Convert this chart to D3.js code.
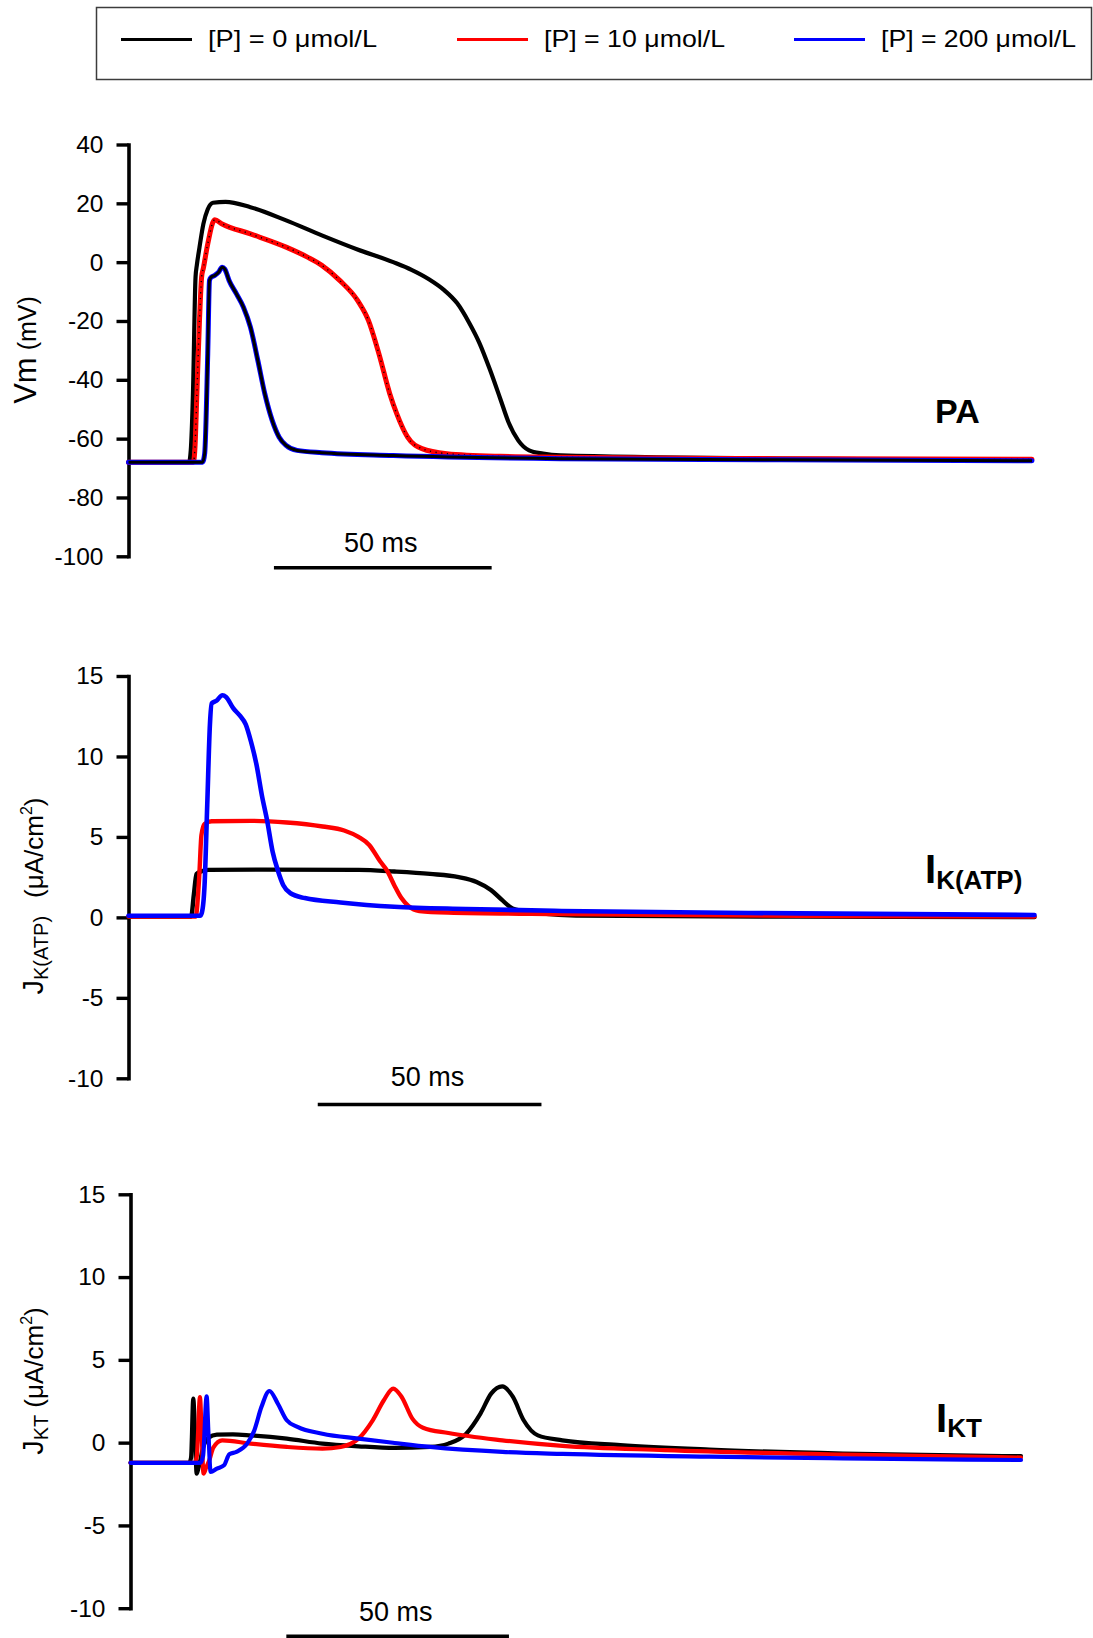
<!DOCTYPE html>
<html>
<head>
<meta charset="utf-8">
<script src="https://cdn.jsdelivr.net/npm/d3@7"></script>
<style>
  html, body { margin: 0; padding: 0; background: #fff; }
  svg { display: block; font-family: "Liberation Sans", Arial, Helvetica, sans-serif; }
</style>
</head>
<body>
<svg id="chart" width="1093" height="1638"></svg>
<script>
// ---- Series ----
const seriesNames  = ["[P] = 0 μmol/L", "[P] = 10 μmol/L", "[P] = 200 μmol/L"];
const seriesColors = ["#000000", "#ff0000", "#0000ff"];

// ---- Action potential, Vm (time ms, mV) ----
const vmP0 = [[0,-68],[13.9,-68],[14.3,-64],[14.8,-45],[15.4,-5],[15.7,-1],[16.3,5],[17.2,13],[18.2,18],[19.4,20.2],
  [22.3,20.5],[28,18.7],[36.2,14.2],[44.4,9.1],[52.6,4.3],[60.8,0.0],[65,-2.6],[69,-5.8],[72.5,-9.5],[75.5,-14],
  [78.2,-20.5],[80.6,-27.5],[83,-36.5],[85.4,-46.5],[87.3,-54.5],[89.5,-60.6],[92,-64],[95.2,-65.1],[99.2,-65.7],[150,-66.8],[207.5,-67.3]];
const vmP10 = [[0,-68],[14.9,-68],[15.3,-62],[15.7,-45],[16.3,-20],[16.8,-5],[17.2,-2],[18.2,6.2],[19.8,14.4],[21.5,13],
  [28,9.6],[36.2,5.1],[41.1,1.7],[44.4,-1.1],[48.5,-6.2],[52.6,-13],[55.1,-19.8],[57.5,-31.1],[60,-44.7],[61.6,-51.5],
  [64.1,-59.5],[67.4,-63.4],[73.1,-65.1],[85.4,-66],[99.2,-66.3],[150,-66.8],[207.5,-67.0]];
const vmP200 = [[0,-68],[17.0,-68],[17.5,-65],[18.2,-31],[18.6,-6.2],[19.0,-5.1],[19.8,-4.5],[20.7,-3.4],[21.5,-1.7],[22.1,-2.3],
  [23.1,-6.2],[24.8,-10.8],[26.4,-15.3],[28,-22.1],[29.7,-33.4],[31.3,-44.7],[33,-53.8],[34.6,-59.5],[36.2,-62.3],[38.7,-64],
  [44.4,-64.8],[60.8,-65.7],[99.2,-66.8],[150,-67.2],[207.5,-67.5]];
const vmTicks = [40, 20, 0, -20, -40, -60, -80, -100];

// ---- K(ATP) current density (time ms, μA/cm²) ----
const katpP0 = [[0,0.05],[14.0,0.05],[14.6,1.4],[15.2,2.7],[16.2,2.85],[17.8,2.95],[30,2.97],[51.4,2.95],[59.4,2.85],[67.4,2.7],
  [73.8,2.5],[77.8,2.2],[81,1.7],[83.4,1.1],[85.8,0.55],[88.2,0.38],[92,0.25],[100,0.12],[150,0.05],[202.5,0.02]];
const katpP10 = [[0,0.05],[15.0,0.05],[15.8,2.5],[16.3,5.1],[17.0,5.8],[18.6,5.97],[27.4,6.0],[35.4,5.9],[43.4,5.65],[48.2,5.4],
  [51.4,5.0],[53.8,4.5],[56.2,3.5],[57.8,2.9],[59.4,2.0],[61.0,1.2],[62.6,0.7],[65,0.4],[71.4,0.3],[96.8,0.2],[150,0.1],[202.5,0.05]];
const katpP200 = [[0,0.1],[16.0,0.1],[16.4,0.3],[17.0,2.0],[17.6,7.0],[18.2,12.0],[18.6,13.3],[19.6,13.45],[21.0,13.8],[21.8,13.7],
  [23.4,13.0],[25,12.5],[26.2,12.0],[27.4,10.9],[28.6,9.5],[29.8,7.6],[31,6.0],[32.2,4.1],[33.4,2.9],[34.6,2.0],[36.2,1.5],
  [39.4,1.2],[47.4,0.93],[59.4,0.66],[75.4,0.52],[96.8,0.4],[150,0.25],[202.5,0.15]];

// ---- KT current density (time ms, μA/cm²) ----
const ktP0 = [[0,-1.22],[13.2,-1.22],[13.6,-0.9],[14.1,2.66],[14.5,0.5],[14.85,-1.87],[15.3,-1.5],[16.3,-0.3],[17.5,0.3],[19.4,0.48],
  [23,0.5],[27,0.44],[35.1,0.24],[43.1,-0.06],[51.2,-0.22],[59.3,-0.32],[67.3,-0.26],[71.4,-0.06],[75.4,0.54],[78.6,1.75],
  [81,2.96],[83.5,3.4],[85.9,2.76],[88.3,1.35],[91.5,0.44],[97,0.14],[110,-0.15],[130,-0.42],[160,-0.66],[200,-0.82]];
const ktP10 = [[0,-1.22],[14.4,-1.22],[14.9,-0.8],[15.6,2.75],[16.0,0.4],[16.4,-1.87],[17.0,-1.5],[17.7,-1.07],[18.6,-0.3],[20.6,0.14],
  [27,-0.06],[35.1,-0.26],[43.1,-0.36],[47.2,-0.26],[51.2,0.24],[54.4,1.35],[56.9,2.56],[59.0,3.26],[60.9,2.76],[63.3,1.45],
  [65.7,0.9],[71.4,0.58],[83.5,0.14],[97,-0.2],[120,-0.45],[160,-0.72],[200,-0.9]];
const ktP200 = [[0,-1.22],[15.7,-1.22],[16.3,-0.8],[17.1,2.8],[17.5,0.6],[18.0,-1.77],[19.4,-1.57],[21.0,-1.37],[22.2,-0.7],[23.8,-0.56],
  [26.2,-0.06],[27.8,0.74],[29.4,2.15],[31.2,3.12],[33.1,2.35],[35.1,1.35],[37.5,0.95],[43.1,0.54],[51.2,0.24],[59.3,-0.02],
  [67.3,-0.26],[83.5,-0.56],[97,-0.68],[130,-0.85],[160,-0.95],[200,-1.05]];
const currentTicks = [15, 10, 5, 0, -5, -10];

// Time scale bar
const scaleBarMs = 50;
const scaleBarLabel = "50 ms";

// ---- Layout of the three stacked panels ----
const panels = [
  { series: [vmP0, vmP10, vmP200], tEnd: 207.5, yDomain: [-100, 40], ticks: vmTicks,
    left: 128.5, right: 1032, top: 144.5, bottom: 556.3,
    barStart: 33.4, barY: 567.7, barTextY: 551.7, overlay: true,
    widths: [4.2, 5, 5] },
  { series: [katpP0, katpP10, katpP200], tEnd: 202.5, yDomain: [-10, 15], ticks: currentTicks,
    left: 128.5, right: 1034.5, top: 676, bottom: 1078.3,
    barStart: 42.3, barY: 1104.5, barTextY: 1085.6, overlay: false,
    widths: [4.4, 4.4, 4.6] },
  { series: [ktP0, ktP10, ktP200], tEnd: 200, yDomain: [-10, 15], ticks: currentTicks,
    left: 130.5, right: 1021, top: 1194.3, bottom: 1608.2,
    barStart: 35.0, barY: 1636.3, barTextY: 1620.7, overlay: false,
    widths: [4.2, 4.2, 4.2] }
];

const svg = d3.select("#chart");

// ---- Legend ----
const legend = svg.append("g");
legend.append("rect")
  .attr("x", 96.5).attr("y", 7.5).attr("width", 995).attr("height", 72)
  .attr("fill", "none").attr("stroke", "#3c3c3c").attr("stroke-width", 1.5);
const legendLineX = [121, 457, 794];
const legendTextWidth = [169, 181, 195];
seriesNames.forEach((name, i) => {
  legend.append("line")
    .attr("x1", legendLineX[i]).attr("x2", legendLineX[i] + 71)
    .attr("y1", 39.5).attr("y2", 39.5)
    .attr("stroke", seriesColors[i]).attr("stroke-width", 3.2);
  legend.append("text")
    .attr("x", legendLineX[i] + 87).attr("y", 47)
    .attr("font-size", 24)
    .attr("textLength", legendTextWidth[i])
    .attr("lengthAdjust", "spacingAndGlyphs")
    .text(name);
});

// ---- Panels ----
panels.forEach(p => {
  const x = d3.scaleLinear().domain([0, p.tEnd]).range([p.left, p.right]);
  const y = d3.scaleLinear().domain(p.yDomain).range([p.bottom, p.top]);
  const g = svg.append("g");

  const axis = d3.axisLeft(y)
    .tickValues(p.ticks)
    .tickSize(12)
    .tickSizeOuter(0)
    .tickPadding(13)
    .tickFormat(d => String(d));
  const ax = g.append("g").attr("transform", `translate(${p.left},0)`).call(axis);
  ax.select(".domain").attr("stroke", "#000").attr("stroke-width", 3.6).attr("stroke-linecap", "square");
  ax.selectAll(".tick line").attr("stroke", "#000").attr("stroke-width", 3.4);
  ax.selectAll(".tick text")
    .attr("fill", "#000").attr("font-size", 24.5)
    .attr("font-family", "'Liberation Sans', Arial, sans-serif");

  const line = d3.line()
    .x(d => x(d[0]))
    .y(d => y(d[1]))
    .curve(d3.curveMonotoneX);

  p.series.forEach((s, i) => {
    g.append("path")
      .datum(s)
      .attr("d", line)
      .attr("fill", "none")
      .attr("stroke", seriesColors[i])
      .attr("stroke-width", p.widths[i])
      .attr("stroke-linejoin", "round")
      .attr("stroke-linecap", "round");
    if (p.overlay && i === 1) {
      // dotted trace running along the 10 μmol/L curve
      g.append("path").datum(s).attr("d", line)
        .attr("fill", "none").attr("stroke", "#000")
        .attr("stroke-width", 1.4).attr("stroke-dasharray", "1.2,4.5");
    }
    if (p.overlay && i === 2) {
      // dark core of the 200 μmol/L trace
      g.append("path").datum(s).attr("d", line)
        .attr("fill", "none").attr("stroke", "#000")
        .attr("stroke-width", 3).attr("stroke-linejoin", "round");
    }
  });

  // 50 ms scale bar
  const bx0 = x(p.barStart), bx1 = x(p.barStart + scaleBarMs);
  g.append("line")
    .attr("x1", bx0).attr("x2", bx1)
    .attr("y1", p.barY).attr("y2", p.barY)
    .attr("stroke", "#000").attr("stroke-width", 3.6);
  g.append("text")
    .attr("x", (bx0 + bx1) / 2 - 2).attr("y", p.barTextY)
    .attr("text-anchor", "middle").attr("font-size", 27)
    .text(scaleBarLabel);
});

// ---- Panel titles ----
svg.append("text").attr("x", 935).attr("y", 423)
  .attr("font-size", 34).attr("font-weight", "bold").text("PA");

const tK = svg.append("text").attr("x", 925).attr("y", 883).attr("font-weight", "bold");
tK.append("tspan").attr("font-size", 40).text("I");
tK.append("tspan").attr("font-size", 26).attr("dy", 6).text("K(ATP)");

const tKT = svg.append("text").attr("x", 936).attr("y", 1432).attr("font-weight", "bold");
tKT.append("tspan").attr("font-size", 40).text("I");
tKT.append("tspan").attr("font-size", 26).attr("dy", 5).text("KT");

// ---- Y axis titles (rotated) ----
const yl1 = svg.append("text")
  .attr("transform", "translate(36,350) rotate(-90)")
  .attr("text-anchor", "middle");
yl1.append("tspan").attr("font-size", 31).text("Vm");
yl1.append("tspan").attr("font-size", 25).attr("dx", 7).text("(mV)");

function currentLabel(cx, cy, sub, gap) {
  const t = svg.append("text")
    .attr("transform", `translate(${cx},${cy}) rotate(-90)`)
    .attr("text-anchor", "middle");
  t.append("tspan").attr("font-size", 29).text("J");
  t.append("tspan").attr("font-size", 20).attr("dy", 5).text(sub);
  t.append("tspan").attr("font-size", 26).attr("dy", -5).attr("dx", gap).text("(μA/cm");
  t.append("tspan").attr("font-size", 16).attr("dy", -11).text("2");
  t.append("tspan").attr("font-size", 26).attr("dy", 11).text(")");
}
currentLabel(43, 896, "K(ATP)", 18);
currentLabel(43, 1381, "KT", 7);
</script>
</body>
</html>
